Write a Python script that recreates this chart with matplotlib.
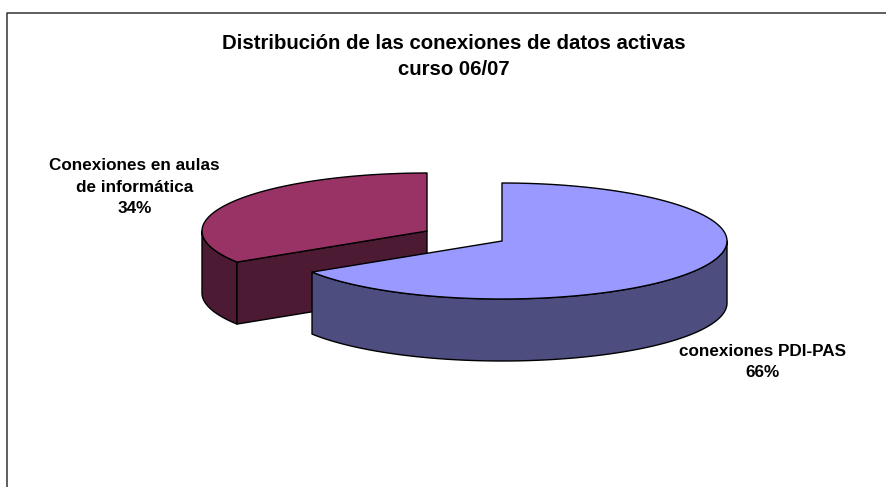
import matplotlib
matplotlib.use('Agg')
import matplotlib.pyplot as plt
from matplotlib.patches import Polygon
import numpy as np

plt.rcParams['font.family'] = ['Liberation Sans', 'DejaVu Sans']

labels = ['conexiones PDI-PAS', 'Conexiones en aulas\nde informática']
values = [66, 34]
title = 'Distribución de las conexiones de datos activas\ncurso 06/07'

top_colors = ['#9999FF', '#993366']
side_colors = ['#4D4D80', '#4D1A33']
centers = [(502, 241), (427, 231)]
label_pos = [(763, 362), (134.5, 187)]
rx, ry, depth = 225, 58, 62


def arc(cx, cy, a0, a1, drop=0):
    # angles clockwise from 12 o'clock, degrees
    t = np.radians(np.linspace(a0, a1, 150))
    return np.column_stack([cx + rx * np.sin(t), cy - ry * np.cos(t) + drop])


fig = plt.figure(figsize=(8.86, 4.87), dpi=100)
ax = fig.add_axes([0, 0, 1, 1])
ax.set_xlim(0, 886)
ax.set_ylim(487, 0)
ax.axis('off')

# frame, only left and top show in the crop
ax.plot([7.5, 7.5, 886], [487, 13, 13], color='#333333', lw=1.1)

edges = np.cumsum([0] + values) / sum(values) * 360

# draw the red slice first, blue sits in front of it
for i in [1, 0]:
    cx, cy = centers[i]
    a0, a1 = edges[i], edges[i + 1]
    kw = dict(closed=True, ec='black', lw=1.0, joinstyle='round')

    # outer wall: only the front half of the ellipse is visible
    w0, w1 = max(a0, 90), min(a1, 270)
    wall = np.vstack([arc(cx, cy, w0, w1), arc(cx, cy, w0, w1, depth)[::-1]])
    ax.add_patch(Polygon(wall, fc=side_colors[i], **kw))

    # cut face facing the viewer
    if i == 1:
        p = arc(cx, cy, a0, a0)[0]
        face = [p, (cx, cy), (cx, cy + depth), (p[0], p[1] + depth)]
        ax.add_patch(Polygon(face, fc=side_colors[i], **kw))

    top = np.vstack([[(cx, cy)], arc(cx, cy, a0, a1)])
    ax.add_patch(Polygon(top, fc=top_colors[i], **kw))

    ax.text(label_pos[i][0], label_pos[i][1],
            f'{labels[i]}\n{values[i]}%', ha='center', va='center',
            fontsize=12.3, fontweight='bold', linespacing=1.58)

ax.text(454, 56.5, title, ha='center', va='center', fontsize=14.7,
        fontweight='bold', linespacing=1.5)

plt.savefig('out.png', dpi=100)
